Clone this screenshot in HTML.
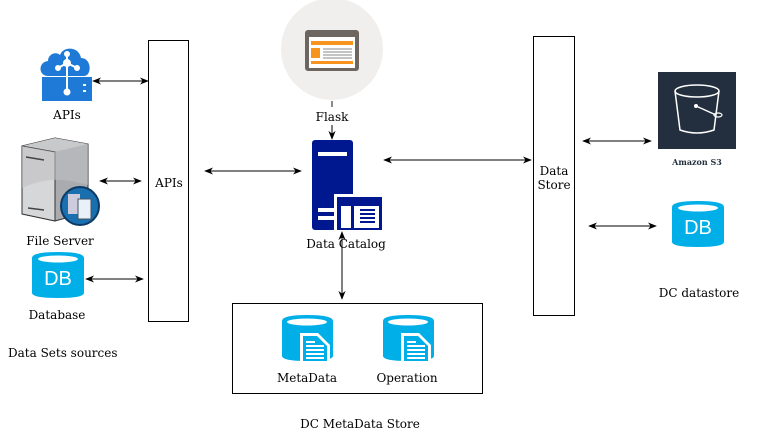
<!DOCTYPE html>
<html><head><meta charset="utf-8"><style>
html,body{margin:0;padding:0;background:#fff;}
svg{display:block;}
text{font-family:"DejaVu Serif","Liberation Serif",serif;font-size:12px;fill:#000;}
</style></head><body>
<svg width="764" height="434" viewBox="0 0 764 434" xmlns="http://www.w3.org/2000/svg">
<defs>
<marker id="a" viewBox="0 0 10 10" refX="9" refY="5" markerWidth="9" markerHeight="9" orient="auto-start-reverse"><path d="M0,1 L10,5 L0,9 L3,5 Z" fill="#000"/></marker>
</defs>
<rect x="148.5" y="40.5" width="40" height="281" fill="#fff" stroke="#000"/>
<rect x="533.5" y="36.5" width="41" height="279" fill="#fff" stroke="#000"/>
<rect x="232.5" y="303.5" width="250" height="90" fill="#fff" stroke="#000"/>
<text x="169" y="187" text-anchor="middle">APIs</text>
<text x="554" y="175" text-anchor="middle">Data</text>
<text x="554" y="189" text-anchor="middle">Store</text>

<g fill="#1e7ad6">
<path d="M48,76 C38,76 38,62 48,61 C48,54 56,51 60,55 C63,46 79,46 81,58 C92,58 92,76 84,76 Z"/>
<rect x="42" y="77" width="50" height="24"/>
</g>
<g stroke="#fff" stroke-width="2" fill="#fff">
<line x1="67" y1="63" x2="67" y2="92"/><line x1="67" y1="63" x2="58" y2="68"/><line x1="67" y1="63" x2="77" y2="68"/><line x1="67" y1="63" x2="67" y2="54"/>
<circle cx="67" cy="63" r="3"/><circle cx="58" cy="68" r="2"/><circle cx="77" cy="68" r="2"/><circle cx="67" cy="54" r="2"/><circle cx="67" cy="92" r="2.5"/>
<rect x="83" y="84" width="3" height="2" stroke="none"/><rect x="83" y="90" width="3" height="2" stroke="none"/>
</g>
<text x="67" y="119" text-anchor="middle">APIs</text>
<line x1="93" y1="81" x2="148" y2="81" stroke="#000" marker-start="url(#a)" marker-end="url(#a)"/>

<path d="M22,146 L55,138 L88,144 L88,212 L55,221 L22,214 Z" fill="#a9abae" stroke="#333"/>
<path d="M22,146 L55,138 L88,144 L55,152 Z" fill="#c8c9cb"/>
<path d="M22,146 L55,152 L55,221 L22,214 Z" fill="#d6d7d9" stroke="#333"/>
<path d="M22,146 L55,152 L88,144 L88,185 C70,180 50,175 22,188 Z" fill="#bfc0c2" opacity="0.6"/>
<line x1="26" y1="157" x2="44" y2="160" stroke="#444" stroke-width="1.5"/>
<line x1="28" y1="208" x2="44" y2="210" stroke="#444" stroke-width="1.5"/>
<circle cx="80" cy="206" r="19" fill="#1a6fae" stroke="#0b3a66" stroke-width="2"/>
<rect x="68" y="194" width="12" height="20" fill="#ccd"/>
<rect x="78" y="199" width="13" height="20" fill="#e8f0f8" stroke="#456"/>
<text x="60" y="245" text-anchor="middle">File Server</text>
<line x1="100" y1="181" x2="141" y2="181" stroke="#000" marker-start="url(#a)" marker-end="url(#a)"/>

<g id="db">
<path d="M32,258 Q32,252 58,252 Q84,252 84,258 L84,293 Q84,298 58,298 Q32,298 32,293 Z" fill="#00aee8"/>
<ellipse cx="58" cy="259" rx="20" ry="3.5" fill="#fff"/>
<text x="58" y="285" text-anchor="middle" style="font-family:'Liberation Sans',sans-serif;font-size:20px;fill:#fff">DB</text>
</g>
<text x="57" y="319" text-anchor="middle">Database</text>
<line x1="86" y1="279" x2="143" y2="279" stroke="#000" marker-start="url(#a)" marker-end="url(#a)"/>
<text x="8" y="357">Data Sets sources</text>

<circle cx="332" cy="49" r="51" fill="#f1efed"/>
<rect x="305" y="30" width="54" height="41" rx="3" fill="#6d6560"/>
<rect x="309" y="37" width="46" height="31" fill="#fff"/>
<rect x="311" y="41" width="42" height="4" fill="#f7941d"/>
<rect x="311" y="48" width="9" height="10" fill="#f7941d"/>
<rect x="311" y="61" width="42" height="3" fill="#f7941d"/>
<g stroke="#888"><line x1="323" y1="49" x2="352" y2="49"/><line x1="323" y1="52" x2="352" y2="52"/><line x1="323" y1="55" x2="352" y2="55"/><line x1="323" y1="58" x2="352" y2="58"/></g>
<line x1="332" y1="101" x2="332" y2="107" stroke="#666" stroke-width="1.5"/>
<text x="332" y="121" text-anchor="middle">Flask</text>
<line x1="332" y1="125" x2="332" y2="139" stroke="#000" marker-end="url(#a)"/>

<rect x="312" y="140" width="41" height="90" rx="3" fill="#00188f"/>
<rect x="318" y="152" width="29" height="4" fill="#fff"/>
<rect x="318" y="208" width="18" height="4" fill="#fff"/>
<rect x="318" y="216" width="18" height="4" fill="#fff"/>
<rect x="334" y="194" width="50" height="38" fill="#fff"/>
<rect x="337" y="197" width="45" height="33" fill="#00188f"/>
<rect x="341" y="206" width="10" height="22" fill="#fff"/>
<rect x="354" y="206" width="25" height="22" fill="#fff"/>
<g fill="#00188f"><rect x="360" y="209" width="15" height="2"/><rect x="360" y="213" width="15" height="2"/><rect x="360" y="217" width="15" height="2"/><rect x="360" y="221" width="15" height="2"/></g>
<text x="346" y="248" text-anchor="middle">Data Catalog</text>
<line x1="205" y1="171" x2="301" y2="171" stroke="#000" marker-start="url(#a)" marker-end="url(#a)"/>
<line x1="384" y1="160" x2="531" y2="160" stroke="#000" marker-start="url(#a)" marker-end="url(#a)"/>
<line x1="342" y1="232" x2="342" y2="299" stroke="#000" marker-start="url(#a)" marker-end="url(#a)"/>

<g id="md">
<path d="M282,321 Q282,315 307,315 Q333,315 333,321 L333,356 Q333,361 307,361 Q282,361 282,356 Z" fill="#00aee8"/>
<ellipse cx="307" cy="322" rx="20" ry="3.5" fill="#fff"/>
<path d="M300,333 L318,333 L330,345 L330,364 L300,364 Z" fill="#fff"/>
<path d="M303,336 L317,336 L327,346 L327,361 L303,361 Z" fill="#00aee8"/>
<g fill="#fff"><rect x="306" y="341" width="9" height="2"/><rect x="306" y="345" width="18" height="2"/><rect x="306" y="349" width="18" height="2"/><rect x="306" y="353" width="18" height="2"/><rect x="306" y="357" width="18" height="2"/></g>
</g>
<use href="#md" x="101"/>
<text x="307" y="382" text-anchor="middle">MetaData</text>
<text x="407" y="382" text-anchor="middle">Operation</text>
<text x="360" y="428" text-anchor="middle">DC MetaData Store</text>

<rect x="658" y="72" width="78" height="77" fill="#232f3e"/>
<path d="M675,91 L680,130 Q697,136 714,130 L719,91" fill="none" stroke="#fff" stroke-width="1.5"/>
<ellipse cx="697" cy="91" rx="22" ry="6" fill="none" stroke="#fff" stroke-width="1.5"/>
<line x1="696" y1="106" x2="716" y2="115" stroke="#fff" stroke-width="1.5"/>
<circle cx="696" cy="106" r="2" fill="#fff"/>
<ellipse cx="718" cy="115" rx="4" ry="2" fill="none" stroke="#fff" stroke-width="1.2"/>
<text x="697" y="165" text-anchor="middle" style="font-size:8px;font-weight:bold;fill:#232f3e">Amazon S3</text>
<line x1="583" y1="141" x2="651" y2="141" stroke="#000" marker-start="url(#a)" marker-end="url(#a)"/>
<use href="#db" x="640" y="-51"/>
<line x1="589" y1="226" x2="656" y2="226" stroke="#000" marker-start="url(#a)" marker-end="url(#a)"/>
<text x="699" y="297" text-anchor="middle">DC datastore</text>
</svg>
</body></html>
